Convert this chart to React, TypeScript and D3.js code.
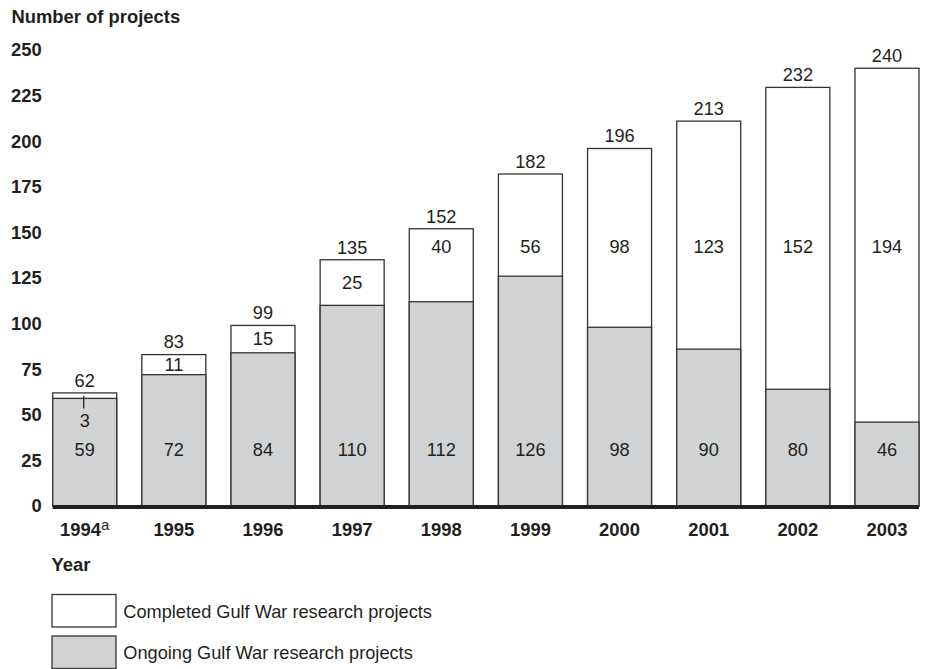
import React from "react";
import * as d3 from "d3";

const years = ["1994", "1995", "1996", "1997", "1998", "1999", "2000", "2001", "2002", "2003"];
const yearNotes = ["a", "", "", "", "", "", "", "", "", ""];
// labelled values
const ongoing = [59, 72, 84, 110, 112, 126, 98, 90, 80, 46];
const completed = [3, 11, 15, 25, 40, 56, 98, 123, 152, 194];
const totals = [62, 83, 99, 135, 152, 182, 196, 213, 232, 240];
// bar heights as drawn in the source picture
const ongoingBarHeight = [59, 72, 84, 110, 112, 126, 98, 86, 64, 46];
const totalBarHeight = [62, 83, 99, 135, 152, 182, 196, 211, 229.5, 240];
const yTicks = [0, 25, 50, 75, 100, 125, 150, 175, 200, 225, 250];
const legendItems = ["Completed Gulf War research projects", "Ongoing Gulf War research projects"];

const W = 927;
const H = 669;
const FONT = "'Liberation Sans', Arial, Helvetica, sans-serif";
const INK = "#231f20";
const GRAY = "#d1d2d4";
const BOLD = 18.4;
const REG = 18.2;

export default function App() {
  const x = d3.scaleBand<string>().domain(years).range([52.7, 919]).paddingInner(0.282).paddingOuter(0);
  const y = d3.scaleLinear().domain([0, 250]).range([506, 50]);
  const bw = x.bandwidth();
  const legendColors = ["#ffffff", GRAY];

  return (
    <svg width={W} height={H} style={{ position: "absolute", left: 0, top: 0, background: "#fff" }} fontFamily={FONT}>
      <text x={11.5} y={16.7} dy="0.35em" fontSize={BOLD} fontWeight="bold" fill={INK}>Number of projects</text>
      {yTicks.map((t) => (
        <text key={t} x={41.8} y={y(t)} dy="0.35em" textAnchor="end" fontSize={BOLD} fontWeight="bold" fill={INK}>{t}</text>
      ))}
      {years.map((yr, i) => {
        const x0 = x(yr)!;
        const cx = x0 + bw / 2;
        const yOn = y(ongoingBarHeight[i]);
        const yTot = y(totalBarHeight[i]);
        const segH = yOn - yTot;
        const compY = segH > 60 ? y(142) : (yTot + yOn) / 2;
        return (
          <g key={yr}>
            <rect x={x0} y={yTot} width={bw} height={y(0) - yTot} fill="#fff" stroke="#333" strokeWidth={1.3} />
            <rect x={x0} y={yOn} width={bw} height={y(0) - yOn} fill={GRAY} stroke="#333" strokeWidth={1.3} />
            <text x={cx} y={yTot - 12.5} dy="0.35em" textAnchor="middle" fontSize={REG} fill={INK}>{totals[i]}</text>
            {segH > 12 ? (
              <text x={cx} y={compY} dy="0.35em" textAnchor="middle" fontSize={REG} fill={INK}>{completed[i]}</text>
            ) : (
              <g>
                <line x1={cx - 1} x2={cx - 1} y1={(yTot + yOn) / 2} y2={yOn + 10} stroke={INK} strokeWidth={1.3} />
                <text x={cx} y={yOn + 22} dy="0.35em" textAnchor="middle" fontSize={REG} fill={INK}>{completed[i]}</text>
              </g>
            )}
            <text x={cx} y={y(31)} dy="0.35em" textAnchor="middle" fontSize={REG} fill={INK}>{ongoing[i]}</text>
            <text x={cx} y={530} dy="0.35em" textAnchor="middle" fontSize={BOLD} fontWeight="bold" fill={INK}>
              {yr}
              {yearNotes[i] ? (
                <tspan fontWeight="normal" fontSize={15} dy="-0.45em">{yearNotes[i]}</tspan>
              ) : null}
            </text>
          </g>
        );
      })}
      <rect x={52.7} y={y(0) - 1} width={919 - 52.7} height={4} fill={INK} />
      <text x={51.5} y={565} dy="0.35em" fontSize={BOLD} fontWeight="bold" fill={INK}>Year</text>
      {legendItems.map((lbl, i) => {
        const top = 594.5 + i * 41.5;
        return (
          <g key={lbl}>
            <rect x={52} y={top} width={64} height={32.5} fill={legendColors[i]} stroke="#333" strokeWidth={1.3} />
            <text x={123.3} y={top + 17} dy="0.35em" fontSize={REG} fill={INK}>{lbl}</text>
          </g>
        );
      })}
    </svg>
  );
}
